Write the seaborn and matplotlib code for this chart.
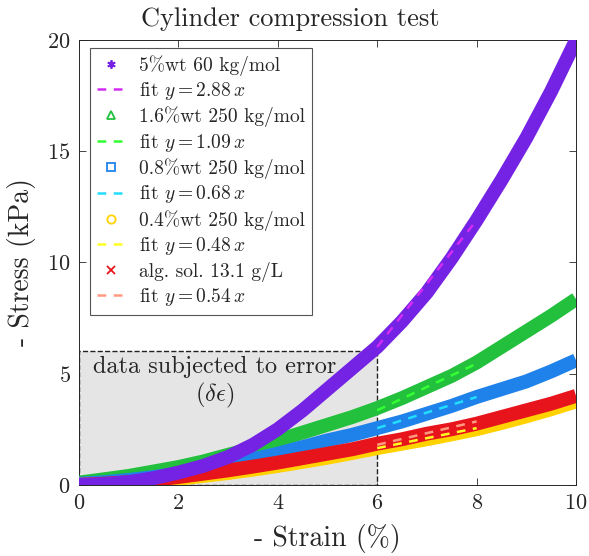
import numpy as np
import pandas as pd
import matplotlib
matplotlib.use("Agg")
import matplotlib.pyplot as plt
from matplotlib.lines import Line2D
from matplotlib.patches import Rectangle
import seaborn as sns

# strain (%) where the curves were read
strain = [0, 0.5, 1, 1.5, 2, 2.5, 3, 3.5, 4, 4.5, 5,
          5.5, 6, 6.5, 7, 7.5, 8, 8.5, 9, 9.5, 10]

# stress (kPa)
s_5wt60 = [0, 0.03, 0.12, 0.3, 0.55, 0.85, 1.25, 1.8, 2.5, 3.35, 4.3,
           5.25, 6.2, 7.35, 8.65, 10.2, 11.9, 13.7, 15.6, 17.7, 20.0]
s_16wt250 = [0.1, 0.25, 0.4, 0.6, 0.8, 1.05, 1.35, 1.65, 2.0, 2.35, 2.7,
             3.05, 3.45, 3.9, 4.4, 4.9, 5.5, 6.2, 6.9, 7.6, 8.35]
s_08wt250 = [0.05, 0.12, 0.22, 0.35, 0.5, 0.7, 0.92, 1.15, 1.4, 1.7, 2.0,
             2.25, 2.55, 2.85, 3.2, 3.55, 3.95, 4.3, 4.65, 5.1, 5.6]
s_04wt250 = [0, 0.03, 0.08, 0.16, 0.27, 0.4, 0.53, 0.68, 0.85, 1.03, 1.22,
             1.43, 1.65, 1.85, 2.05, 2.27, 2.5, 2.78, 3.08, 3.4, 3.75]
s_alg = [0, 0.05, 0.12, 0.22, 0.35, 0.5, 0.65, 0.82, 1.0, 1.2, 1.4,
         1.6, 1.85, 2.05, 2.3, 2.5, 2.75, 3.05, 3.35, 3.65, 4.0]

names = ["5%wt 60 kg/mol", "1.6%wt 250 kg/mol", "0.8%wt 250 kg/mol",
         "0.4%wt 250 kg/mol", "alg. sol. 13.1 g/L"]
slopes = ["2.88", "1.09", "0.68", "0.48", "0.54"]
data_colors = ["#7422e4", "#22c03c", "#1f82ea", "#ffd200", "#e8141c"]
fit_colors = ["#d22cf5", "#33ff33", "#22ddff", "#ffff22", "#ff9a80"]
markers = [(6, 2, 0), "^", "s", "o", "x"]

# fits drawn between strain 6 and 8
fit_x = [6, 8]
fit_y = [[6.2, 11.9], [3.35, 5.45], [2.55, 3.95], [1.65, 2.55], [1.8, 2.85]]

rows = []
for name, ys in zip(names, [s_5wt60, s_16wt250, s_08wt250, s_04wt250, s_alg]):
    for x, y in zip(strain, ys):
        rows.append((name, x, y))
df = pd.DataFrame(rows, columns=["sample", "strain", "stress"])

fit_rows = []
for name, ys in zip(names, fit_y):
    for x, y in zip(fit_x, ys):
        fit_rows.append((name, x, y))
df_fit = pd.DataFrame(fit_rows, columns=["sample", "strain", "stress"])

sns.set_style("ticks")
plt.rcParams["font.family"] = ["cmr10"]
plt.rcParams["mathtext.fontset"] = "cm"
plt.rcParams["axes.unicode_minus"] = False
plt.rcParams["axes.formatter.use_mathtext"] = True

fig = plt.figure(figsize=(5.89, 5.56), dpi=100)
ax = fig.add_axes([0.134, 0.128, 0.844, 0.8])

ax.add_patch(Rectangle((0, 0), 6, 6, facecolor="#e5e5e5", edgecolor="#222222",
                       linestyle="--", linewidth=1, zorder=1))

pal = dict(zip(names, data_colors))
order = [names[1], names[2], names[3], names[4], names[0]]
sns.lineplot(data=df, x="strain", y="stress", hue="sample", hue_order=order,
             palette=pal, linewidth=10, legend=False, ax=ax, zorder=3,
             solid_capstyle="butt")

fpal = dict(zip(names, fit_colors))
sns.lineplot(data=df_fit, x="strain", y="stress", hue="sample", hue_order=names,
             palette=fpal, linewidth=1.8, linestyle=(0, (3.5, 3)), legend=False,
             ax=ax, zorder=4)

ax.text(2.72, 5.3, "data subjected to error", ha="center", va="center", fontsize=17.5, zorder=2)
ax.text(2.72, 4.0, r"$(\delta\epsilon)$", ha="center", va="center", fontsize=17.5, zorder=2)

ax.set_xlim(0, 10)
ax.set_ylim(0, 20)
ax.set_xticks([0, 2, 4, 6, 8, 10])
ax.set_yticks([0, 5, 10, 15, 20])
ax.tick_params(direction="in", top=True, right=True, labelsize=16, length=5,
               width=0.6, color="#262626", pad=6)
for sp in ax.spines.values():
    sp.set_linewidth(0.7)
    sp.set_color("#262626")
ax.set_xlabel("- Strain (%)", fontsize=20, labelpad=8)
ax.set_ylabel("- Stress (kPa)", fontsize=20, labelpad=8)
fig.text(0.493, 0.966, "Cylinder compression test", ha="center", va="center", fontsize=19)

handles = []
labels = []
for name, sl, dc, fc, mk in zip(names, slopes, data_colors, fit_colors, markers):
    mfc = "none" if mk in ["^", "s", "o"] else dc
    handles.append(Line2D([], [], linestyle="none", marker=mk, markersize=6,
                          color=dc, markerfacecolor=mfc, markeredgewidth=1.3))
    labels.append(name)
    handles.append(Line2D([], [], linestyle=(0, (3.5, 3)), linewidth=1.8, color=fc))
    labels.append(r"fit $y=" + sl + r"\,x$")

leg = ax.legend(handles, labels, loc="upper left", bbox_to_anchor=(0.022, 0.982),
                fontsize=14, frameon=True, fancybox=False, framealpha=1,
                edgecolor="#555555", handlelength=1.5, handletextpad=0.7,
                labelspacing=0.23, borderaxespad=0, borderpad=0.35)
leg.get_frame().set_linewidth(0.8)
leg.set_zorder(10)

fig.savefig("out.png", dpi=100)
